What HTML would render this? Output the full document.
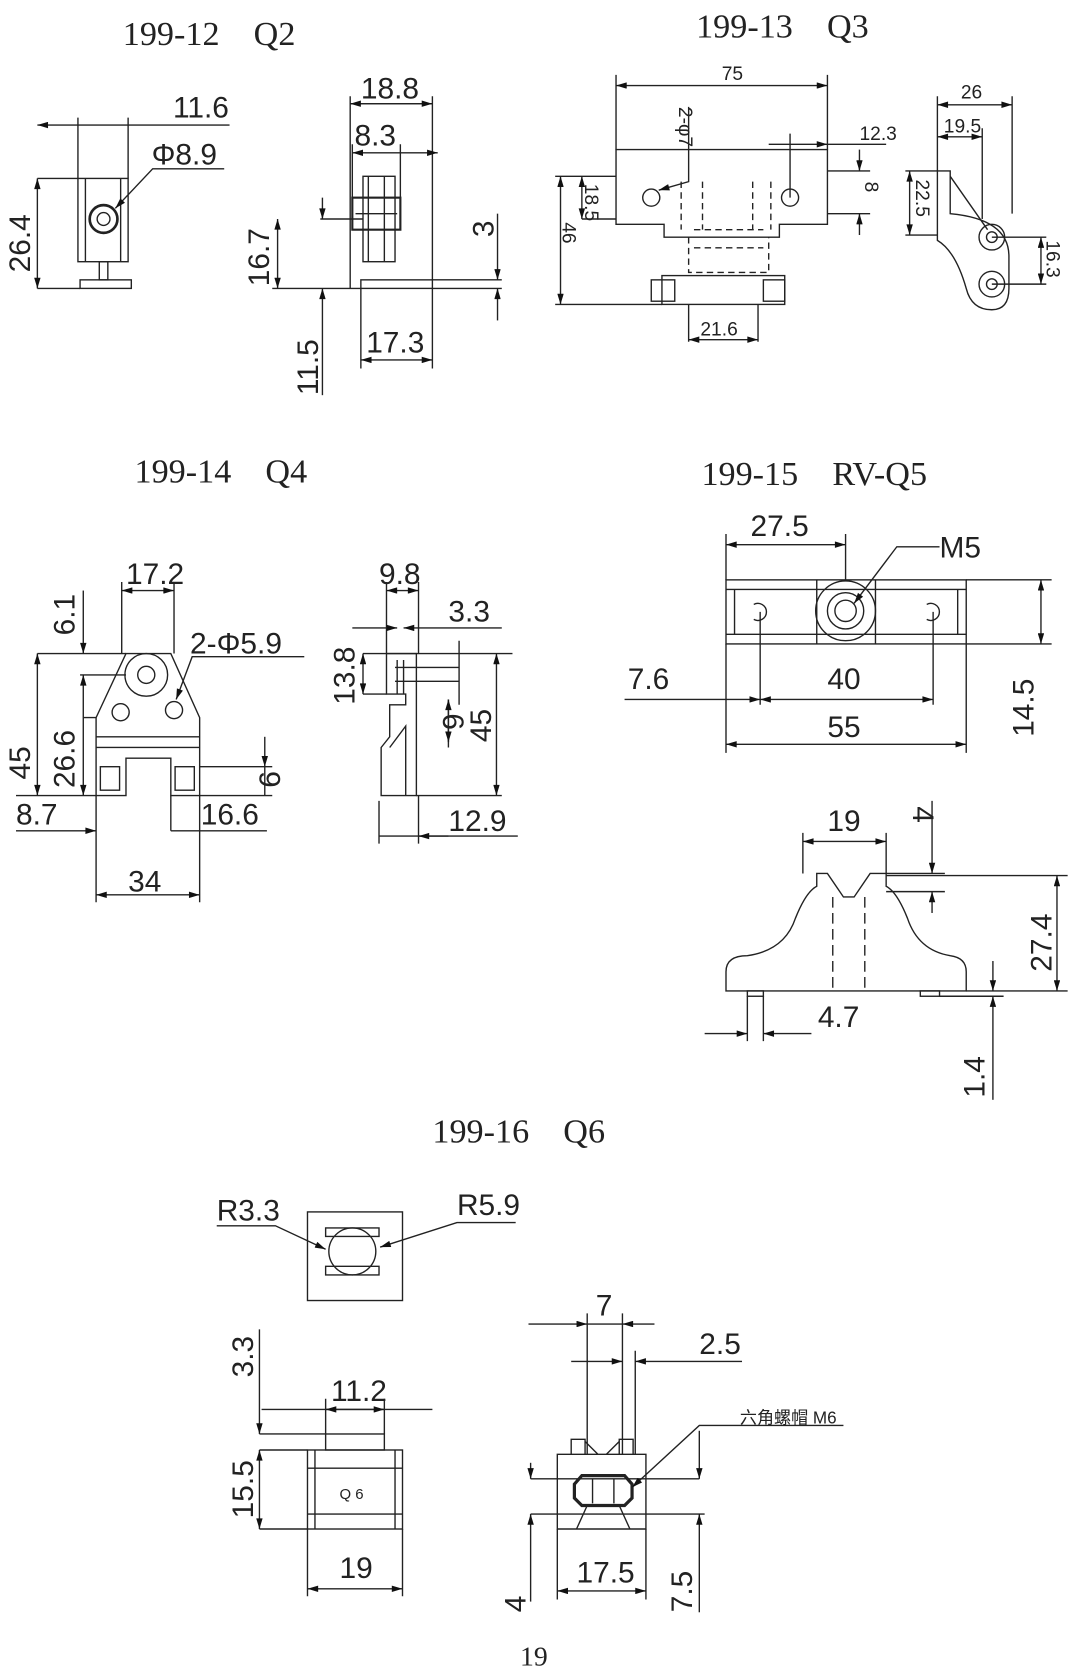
<!DOCTYPE html>
<html><head><meta charset="utf-8"><style>
html,body{margin:0;padding:0;background:#fff}
svg{display:block}
.t{font-family:"Liberation Serif",serif;font-size:32px;fill:#222}
.d{font-family:"Liberation Sans",sans-serif;font-size:28px;fill:#222}
.s{font-family:"Liberation Sans",sans-serif;font-size:18px;fill:#222}
.c{font-family:"Liberation Sans","Noto Sans CJK SC",sans-serif;font-size:16px;fill:#222}
</style></head><body>
<svg width="1089" height="1669" viewBox="0 0 1020 1563" xmlns="http://www.w3.org/2000/svg">
<defs>
<marker id="a" viewBox="0 0 10 6" refX="10" refY="3" markerWidth="14" markerHeight="6" markerUnits="userSpaceOnUse" orient="auto-start-reverse"><path d="M0,0L10,3L0,6z" fill="#111"/></marker>
</defs>
<g fill="none" stroke="#222" stroke-width="1.3">
<!-- Q2 left -->
<rect x="73" y="167" width="47" height="78"/><line x1="80" y1="167" x2="80" y2="245"/><line x1="113" y1="167" x2="113" y2="245"/>
<circle cx="97" cy="205" r="13" stroke-width="2.5"/><circle cx="97" cy="205" r="6"/>
<rect x="93" y="245" width="8" height="17"/><rect x="75" y="262" width="48" height="8"/>
<path d="M73 117H215M120 110V167M73 110V167M35 167H73M35 270H75"/>
<path d="M35 167V270" marker-start="url(#a)" marker-end="url(#a)"/>
<path d="M210 158H143L108 195" marker-end="url(#a)"/>
<path d="M73 117H35" marker-end="url(#a)"/>
<!-- Q2 side -->
<rect x="338" y="262" width="67" height="8"/><rect x="340" y="165" width="30" height="80"/>
<rect x="330" y="185" width="45" height="30" stroke-width="2"/><path d="M333 200H372M345 165V245M360 165V245"/>
<path d="M328 97H405M328 90V270M405 90V262M330 135V185M375 135V185M300 205H340M255 270H338M405 262H470M405 270H470M338 270V345M405 270V345"/>
<path d="M330 143H410" marker-start="url(#a)" marker-end="url(#a)"/>
<path d="M328 97H405" marker-start="url(#a)" marker-end="url(#a)"/>
<path d="M466 200V262" marker-end="url(#a)"/><path d="M466 300V270" marker-end="url(#a)"/>
<path d="M260 205V270" marker-start="url(#a)" marker-end="url(#a)"/>
<path d="M302 370V270" marker-end="url(#a)"/><path d="M302 185V205" marker-end="url(#a)"/>
<path d="M338 337H405" marker-start="url(#a)" marker-end="url(#a)"/>
<!-- Q3 top -->
<path d="M577 140H775V210H730V222H622V210H577Z"/>
<path d="M645 222V255H720V222M650 215H715M650 232H715M638 170V215M658 170V215M705 170V215M722 170V215" stroke-dasharray="6 4"/>
<rect x="620" y="258" width="115" height="27"/><rect x="610" y="262" width="22" height="20"/><rect x="715" y="262" width="20" height="20"/>
<circle cx="610" cy="185" r="8"/><circle cx="740" cy="185" r="8"/>
<path d="M577 70V140M775 70V140M520 165H577M520 285H620M545 205H577M645 285V320M710 285V320M740 125V185M775 160H815M775 200H815"/>
<path d="M577 80H775" marker-start="url(#a)" marker-end="url(#a)"/>
<path d="M720 135H775" marker-end="url(#a)"/><path d="M830 135H775"/>
<path d="M805 140V160" marker-end="url(#a)"/><path d="M805 220V200" marker-end="url(#a)"/>
<path d="M545 165V205" marker-start="url(#a)" marker-end="url(#a)"/>
<path d="M525 165V285" marker-start="url(#a)" marker-end="url(#a)"/>
<path d="M645 318H710" marker-start="url(#a)" marker-end="url(#a)"/>
<path d="M645 100V170L617 178" marker-end="url(#a)"/>
<!-- Q3 side -->
<path d="M878 160H890V200Q945 205 945 240V270Q945 290 929 290Q910 290 905 270Q895 235 878 225Z"/>
<circle cx="929" cy="222" r="12"/><circle cx="929" cy="222" r="5"/><circle cx="929" cy="266" r="12"/><circle cx="929" cy="266" r="5"/>
<path d="M878 90V160M948 90V200M920 120V205M848 160H878M848 220H878M929 222H980M929 266H980M890 165L925 215"/>
<path d="M878 98H948" marker-start="url(#a)" marker-end="url(#a)"/>
<path d="M878 128H920" marker-start="url(#a)" marker-end="url(#a)"/>
<path d="M852 160V220" marker-start="url(#a)" marker-end="url(#a)"/>
<path d="M975 222V266" marker-start="url(#a)" marker-end="url(#a)"/>
<!-- Q4 front -->
<path d="M118 612H160L187 672V745H160V710H118V745H90V672Z"/>
<circle cx="137" cy="632" r="20"/><circle cx="137" cy="632" r="8"/>
<circle cx="113" cy="667" r="8"/><circle cx="163" cy="665" r="8"/>
<path d="M90 690H187M90 700H187"/><rect x="94" y="718" width="18" height="22"/><rect x="164" y="718" width="18" height="22"/>
<path d="M114 545V612M163 545V612M35 612H118M75 632H118M78 672H90M15 745H90M187 745H255M90 745V845M187 745V845M187 718H255M160 778V745"/>
<path d="M114 553H163" marker-start="url(#a)" marker-end="url(#a)"/>
<path d="M78 553V612" marker-end="url(#a)"/><path d="M78 632V745" marker-start="url(#a)" marker-end="url(#a)"/>
<path d="M35 612V745" marker-start="url(#a)" marker-end="url(#a)"/>
<path d="M15 778H90" marker-end="url(#a)"/><path d="M250 778H160"/>
<path d="M248 690V718" marker-end="url(#a)"/><path d="M248 745V718"/>
<path d="M90 838H187" marker-start="url(#a)" marker-end="url(#a)"/>
<path d="M285 615H180L165 655" marker-end="url(#a)"/>
<!-- Q4 side -->
<path d="M362 612H390V745H357V700L365 690V660H380V650H362Z"/>
<path d="M372 618V650M378 618V650M370 625H430M370 638H430"/><path d="M365 700L380 680V745" />
<path d="M362 545V612M392 545V612M355 750V790M392 745V790M340 612H480M340 650H362M390 745H470M420 655V700M430 600V660"/>
<path d="M362 553H392" marker-start="url(#a)" marker-end="url(#a)"/>
<path d="M330 588H372" marker-end="url(#a)"/><path d="M470 588H378" marker-end="url(#a)"/>
<path d="M340 612V650" marker-start="url(#a)" marker-end="url(#a)"/>
<path d="M465 612V745" marker-start="url(#a)" marker-end="url(#a)"/>
<path d="M420 655V695" marker-start="url(#a)" marker-end="url(#a)"/>
<path d="M355 783H485"/><path d="M420 783H392" marker-end="url(#a)"/>
<!-- Q5 top -->
<rect x="680" y="543" width="225" height="60"/><path d="M680 552H905M680 594H905M688 552V594M897 552V594"/>
<path d="M765 543V603M820 543V603"/><circle cx="792" cy="572" r="28"/><circle cx="792" cy="572" r="10"/><circle cx="792" cy="572" r="17"/>
<path d="M706 566A8 8 0 1 1 706 580M868 566A8 8 0 1 1 868 580"/>
<path d="M680 500V543M792 500V543M905 543H985M905 603H985M680 603V705M905 603V705M712 573V660M874 573V660"/>
<path d="M680 510H792" marker-start="url(#a)" marker-end="url(#a)"/>
<path d="M880 512H840L800 565" marker-end="url(#a)"/>
<path d="M585 655H712" marker-end="url(#a)"/>
<path d="M712 655H874" marker-start="url(#a)" marker-end="url(#a)"/>
<path d="M680 697H905" marker-start="url(#a)" marker-end="url(#a)"/>
<path d="M975 543V603" marker-start="url(#a)" marker-end="url(#a)"/>
<!-- Q5 side -->
<path d="M680 928V910Q680 895 700 895Q735 890 745 860Q755 835 765 830V818H775L790 840H800L815 818H830V830Q840 835 850 860Q860 890 890 895Q905 897 905 910V928Z"/>
<path d="M780 840V928M810 840V928" stroke-dasharray="10 5"/>
<rect x="700" y="928" width="15" height="5"/><rect x="862" y="928" width="18" height="5"/>
<path d="M752 780V818M830 780V818M830 818H885M830 835H885M905 928H1000M880 933H940M700 933V975M715 933V975M830 820H1000"/>
<path d="M752 788H830" marker-start="url(#a)" marker-end="url(#a)"/>
<path d="M873 750V818" marker-end="url(#a)"/><path d="M873 855V835" marker-end="url(#a)"/>
<path d="M990 820V928" marker-start="url(#a)" marker-end="url(#a)"/>
<path d="M660 968H700" marker-end="url(#a)"/><path d="M760 968H715" marker-end="url(#a)"/>
<path d="M930 900V928" marker-end="url(#a)"/><path d="M930 1030V933" marker-end="url(#a)"/>
<!-- Q6 top -->
<rect x="288" y="1135" width="89" height="83"/>
<circle cx="330" cy="1172" r="22"/><path d="M305 1150H355V1158H305ZM305 1186H355V1194H305Z"/>
<path d="M203 1148H258L305 1170" marker-end="url(#a)"/><path d="M483 1145H428L356 1168" marker-end="url(#a)"/>
<!-- Q6 front -->
<rect x="288" y="1358" width="89" height="74"/><rect x="305" y="1343" width="55" height="15"/>
<path d="M295 1358V1432M370 1358V1432M288 1375H377M288 1418H377"/>
<path d="M305 1310V1343M360 1310V1343M243 1343H305M243 1358H288M243 1432H288M288 1432V1495M377 1432V1495"/>
<path d="M245 1320H405" /><path d="M305 1320H360" marker-start="url(#a)" marker-end="url(#a)"/>
<path d="M243 1245V1343" marker-end="url(#a)"/>
<path d="M243 1358V1432" marker-start="url(#a)" marker-end="url(#a)"/>
<path d="M288 1488H377" marker-start="url(#a)" marker-end="url(#a)"/>
<!-- Q6 side -->
<path d="M522 1362H605V1432H522Z M535 1362V1348H548V1362M580 1362V1348H593V1362M548 1350L560 1362M580 1350L568 1362"/>
<path d="M538 1390L545 1382H585L592 1390V1403L585 1410H545L538 1403Z" stroke-width="3"/>
<path d="M555 1385V1408M575 1385V1408M540 1432L550 1410M590 1432L580 1410"/>
<path d="M550 1230V1362M583 1230V1362M595 1265V1362M497 1385H655M497 1418H660M522 1432V1498M605 1432V1498"/>
<path d="M495 1240H550" marker-end="url(#a)"/><path d="M613 1240H583" marker-end="url(#a)"/><path d="M550 1240H583"/>
<path d="M535 1275H583" marker-end="url(#a)"/><path d="M695 1275H595" marker-end="url(#a)"/>
<path d="M790 1335H655L592 1393" marker-end="url(#a)"/>
<path d="M497 1370V1385" marker-end="url(#a)"/><path d="M497 1500V1418" marker-end="url(#a)"/>
<path d="M655 1340V1385" marker-end="url(#a)"/><path d="M655 1510V1418" marker-end="url(#a)"/>
<path d="M522 1490H605" marker-start="url(#a)" marker-end="url(#a)"/>
</g>
<g class="t">
<text x="115" y="42">199-12　Q2</text><text x="652" y="35">199-13　Q3</text>
<text x="126" y="452">199-14　Q4</text><text x="657" y="454">199-15　RV-Q5</text>
<text x="405" y="1070">199-16　Q6</text><text x="487" y="1560" style="font-size:26px">19</text>
</g>
<g class="d">
<text x="162" y="110">11.6</text><text x="142" y="154">Φ8.9</text>
<text transform="translate(28,255) rotate(-90)">26.4</text>
<text x="338" y="92">18.8</text><text x="332" y="136">8.3</text>
<text transform="translate(462,222) rotate(-90)">3</text>
<text transform="translate(252,268) rotate(-90)">16.7</text>
<text transform="translate(298,370) rotate(-90)">11.5</text>
<text x="343" y="330">17.3</text>
<text x="118" y="547">17.2</text><text x="178" y="612">2-Φ5.9</text>
<text transform="translate(70,595) rotate(-90)">6.1</text>
<text transform="translate(28,730) rotate(-90)">45</text>
<text transform="translate(70,738) rotate(-90)">26.6</text>
<text x="15" y="772">8.7</text><text x="188" y="772">16.6</text>
<text transform="translate(243,722) rotate(90)">9</text>
<text x="120" y="835">34</text>
<text x="355" y="547">9.8</text><text x="420" y="582">3.3</text>
<text transform="translate(332,660) rotate(-90)">13.8</text>
<text transform="translate(415,668) rotate(90)">6</text>
<text transform="translate(460,695) rotate(-90)">45</text>
<text x="420" y="778">12.9</text>
<text x="703" y="502">27.5</text><text x="880" y="522">M5</text>
<text x="588" y="645">7.6</text><text x="775" y="645">40</text><text x="775" y="690">55</text>
<text transform="translate(968,690) rotate(-90)">14.5</text>
<text x="775" y="778">19</text>
<text transform="translate(855,755) rotate(90)">4</text>
<text transform="translate(985,910) rotate(-90)">27.4</text>
<text x="766" y="962">4.7</text>
<text transform="translate(922,1028) rotate(-90)">1.4</text>
<text x="203" y="1143">R3.3</text><text x="428" y="1138">R5.9</text>
<text transform="translate(237,1290) rotate(-90)">3.3</text>
<text x="310" y="1312">11.2</text>
<text transform="translate(237,1422) rotate(-90)">15.5</text>
<text x="318" y="1478">19</text>
<text x="558" y="1232">7</text><text x="655" y="1268">2.5</text>
<text transform="translate(492,1510) rotate(-90)">4</text>
<text x="540" y="1482">17.5</text>
<text transform="translate(648,1510) rotate(-90)">7.5</text>
</g>
<g class="s">
<text x="676" y="75">75</text><text x="805" y="131">12.3</text><text x="900" y="92">26</text><text x="884" y="124">19.5</text>
<text x="656" y="314">21.6</text>
<text transform="translate(548,172) rotate(90)">18.5</text>
<text transform="translate(527,208) rotate(90)">46</text>
<text transform="translate(810,170) rotate(90)">8</text>
<text transform="translate(858,168) rotate(90)">22.5</text>
<text transform="translate(980,225) rotate(90)">16.3</text>
<text transform="translate(636,100) rotate(90)">2-φ7</text>
<text x="318" y="1404" style="font-size:14px">Q 6</text>
</g>
<text class="c" x="693" y="1333">六角螺帽 M6</text>
</svg>
</body></html>
